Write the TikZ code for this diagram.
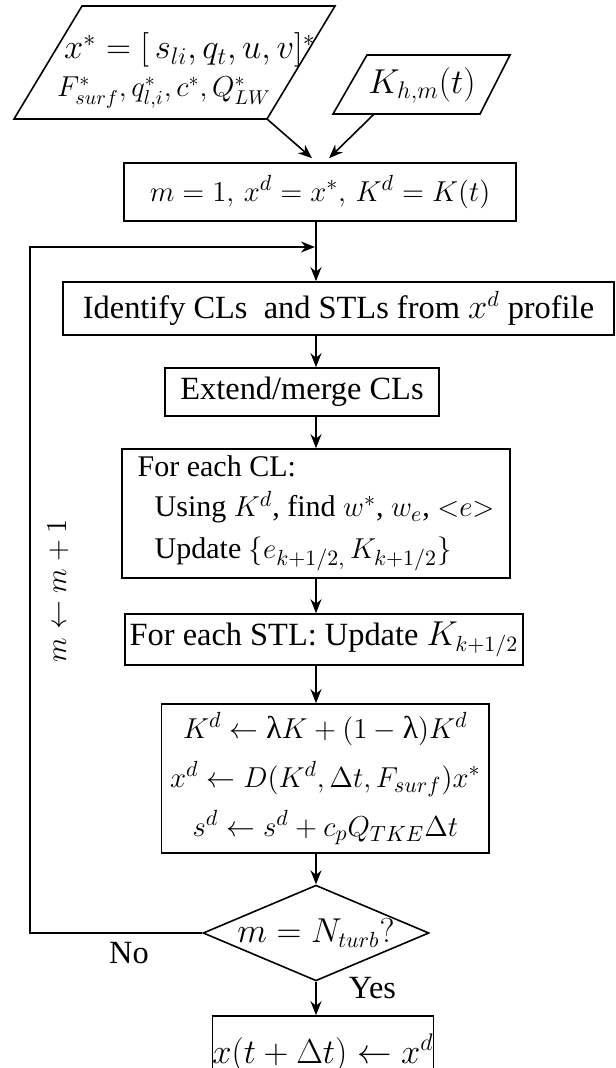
\documentclass[tikz,border=0pt]{standalone}
\usepackage{fontspec}
\setmainfont{Liberation Serif}
\usetikzlibrary{arrows.meta}
\usetikzlibrary{shapes.geometric}
\usetikzlibrary{calc}

\newcommand{\fsA}{\fontsize{16.2}{20}\selectfont}
\newcommand{\fsB}{\fontsize{15.8}{24.5}\selectfont}
\newcommand{\lam}{\mbox{λ}}

\begin{document}
\begin{tikzpicture}[x=0.5pt,y=-0.5pt,
    box/.style={draw,line width=0.8pt,inner sep=0pt,font=\fsA},
    ln/.style={line width=0.8pt,line join=miter},
    decision/.style={draw,line width=0.8pt,diamond,inner sep=0pt,aspect=2.36},
    arr/.style={line width=0.8pt,-{Stealth[length=7pt,width=5.5pt]}},
    txt/.style={font=\fsA}]
\useasboundingbox(0,0)rectangle(615,1068);

\coordinate(axis)at(316,0);
\coordinate(loopx)at(30,0);
\coordinate(back)at(315,247);

% inputs
\coordinate(in1bl)at(14,119);
\coordinate(in1tl)at(82,6);
\coordinate(in1tr)at(335,6);
\coordinate(in1br)at(267,119);
\draw[ln](in1bl)--(in1tl)--(in1tr)--(in1br)--cycle;
\node[font=\fontsize{17}{20}\selectfont,anchor=base,inner sep=0pt](in1a)at(190,59){$x^{*} = [\,s_{li},q_{t},u,v]^{*}$};
\node[font=\fontsize{14.5}{18}\selectfont,anchor=base,inner sep=0pt](in1b)at(164,97){$F^{*}_{surf},q^{*}_{l,i},c^{*},Q^{*}_{LW}$};

\coordinate(kinbl)at(333,114);
\coordinate(kintl)at(367,55);
\coordinate(kintr)at(510,55);
\coordinate(kinbr)at(480,114);
\draw[ln](kinbl)--(kintl)--(kintr)--(kinbr)--cycle;
\node[font=\fontsize{18.5}{22}\selectfont,inner sep=0pt](kin)at(422,85){$K_{h,m}(t)$};

% steps
\node[box,minimum width=196.25pt,minimum height=29pt,font=\fontsize{15.6}{22}\selectfont](init)at(320,192){$m = 1,\, x^{d} = x^{*},\, K^{d} = K(t)$};
\node[box,minimum width=275.5pt,minimum height=26.5pt](ident)at(338.5,308.5){Identify CLs\ \ and STLs from $x^{d}$ profile\hspace{14pt}};
\node[box,minimum width=136.75pt,minimum height=24pt](ext)at(302,392){Extend/merge CLs};
\node[box,align=left,minimum width=194pt,minimum height=64.5pt,font=\fontsize{15}{19}\selectfont](each)at(316,513.5){For each CL:\\[1pt]
  \hspace*{8.5pt}Using $K^{d}$, find $w^{*}$, $w_{e}$, ${<}e{>}$\\[2pt]
  \hspace*{8.5pt}Update $\{e_{k+1/2,}\,K_{k+1/2}\}$};
\node[box,minimum width=199.25pt,minimum height=25.5pt](stl)at(324,639.5){For each STL: Update $K_{k+1/2}$\hspace{3pt}};
\node[box,minimum width=163.7pt,minimum height=74.5pt,align=center,font=\fsB](upd)at(325.3,778.5){$K^{d} \leftarrow \lam K + (1-\lam)K^{d}$\\
  $x^{d} \leftarrow D(K^{d}{,}\,\Delta t{,}\,F_{surf})x^{*}$\\
  $s^{d} \leftarrow s^{d} + c_{p}Q_{TKE}\Delta t$};
\node[decision,minimum width=108.5pt,minimum height=46pt,font=\fsA](test)at(316,933){$m = N_{turb}?$};
\node[box,minimum width=102pt,minimum height=37pt,font=\fontsize{16.5}{20}\selectfont](out)at(323,1053){$x(t + \Delta t) \leftarrow x^{d}$};

% labels
\node[txt](no)at(129,953){No};
\node[txt](yes)at(372.5,988){Yes};
\node[txt,rotate=90,font=\fontsize{15}{18}\selectfont](incr)at(58,591){$m \leftarrow m + 1$};

% arrows
\draw[arr](in1br)--([xshift=-4pt,yshift=2pt]init.north);
\draw[arr]($(kinbl)!0.28!(kinbr)$)--([xshift=4.5pt,yshift=2pt]init.north);
\draw[arr](init.south -| axis)--(ident.north -| axis);
\draw[arr](ident.south -| axis)--(ext.north -| axis);
\draw[arr](ext.south -| axis)--(each.north -| axis);
\draw[arr](each.south -| axis)--(stl.north -| axis);
\draw[arr](stl.south -| axis)--(upd.north -| axis);
\draw[arr](upd.south -| axis)--(test.north);
\draw[arr](test.south)--(out.north -| axis);
\draw[arr](test.west)--(test.west -| loopx)|-(back);
\end{tikzpicture}
\end{document}
